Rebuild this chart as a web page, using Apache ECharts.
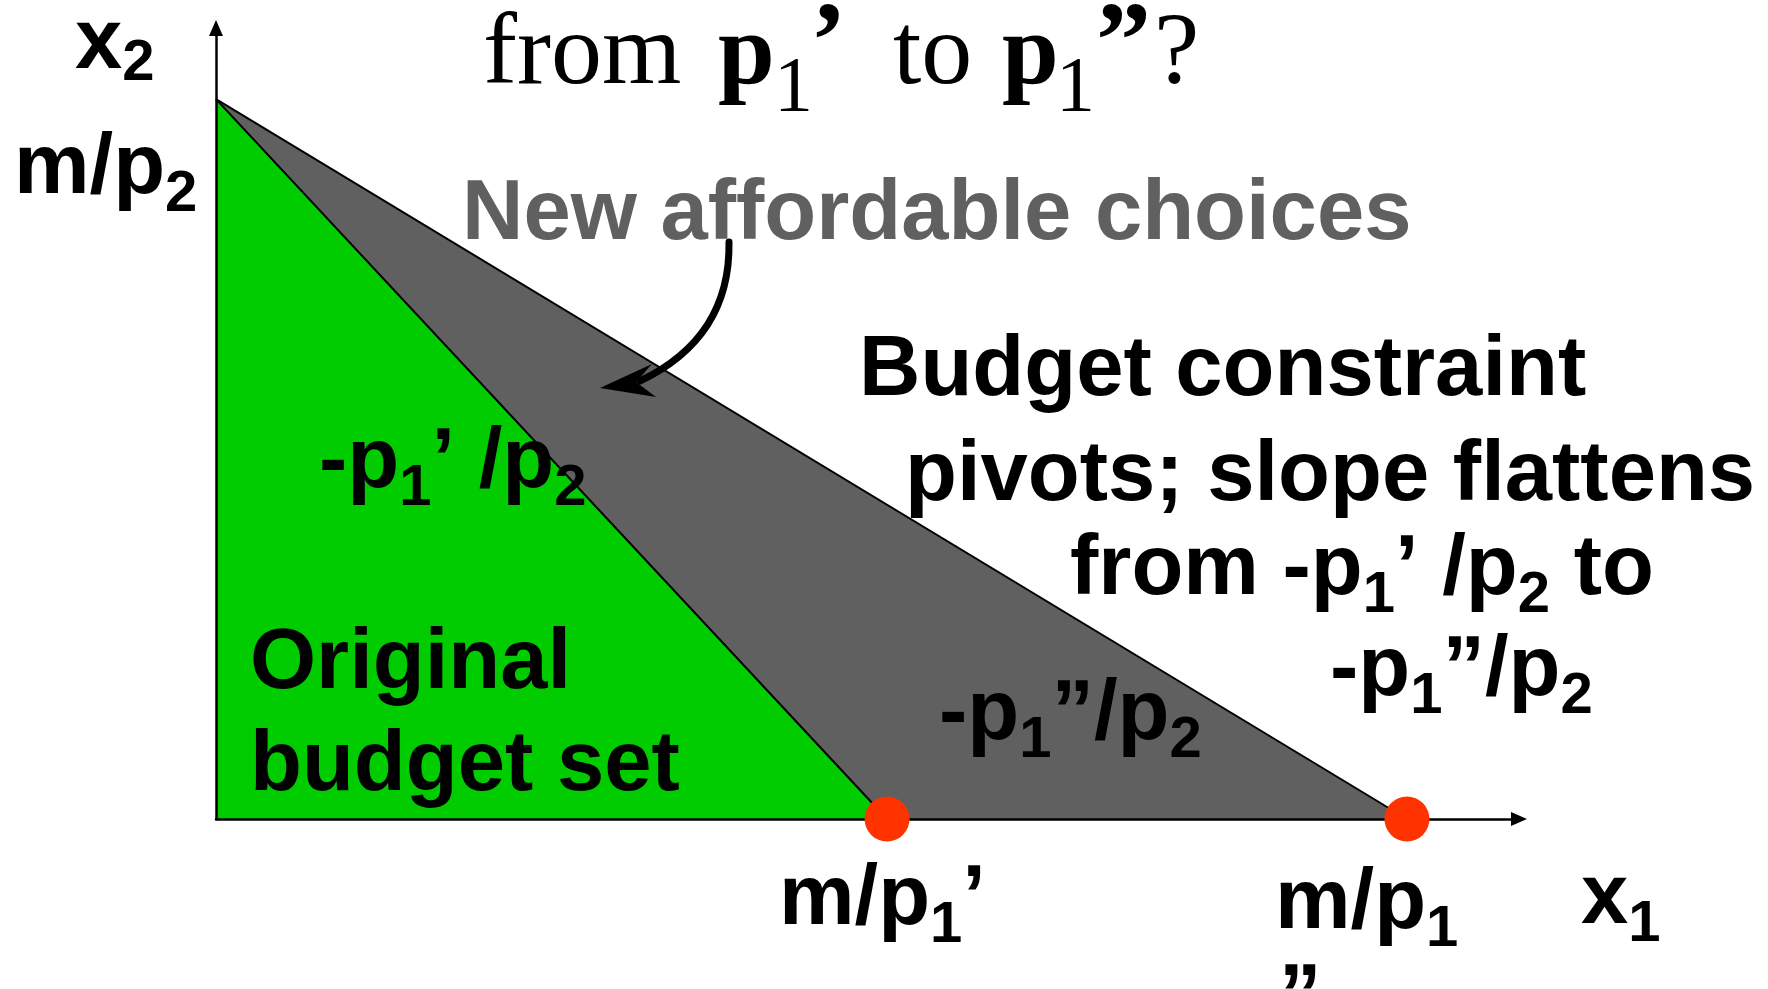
<!DOCTYPE html>
<html><head><meta charset="utf-8">
<script src="https://cdn.jsdelivr.net/npm/echarts@6/dist/echarts.min.js"></script>
<style>html,body{margin:0;padding:0;background:#fff}#c{width:1768px;height:989px}</style>
</head><body><div id="c"></div>
<script>
// ---- data (axis units; axes run 0..10) ----
const axisRange = [0, 10];
const budgetLines = ['Original budget line', 'New budget line'];
const yIntercepts = [9.1, 9.1];     // m/p2 (same for both lines)
const xIntercepts = [5.15, 9.14];   // m/p1' , m/p1''
const fillColors = ['#00cc00', '#606060'];
const dotColor = '#ff3300';

const SANS = '"Liberation Sans", Arial, sans-serif';
const SERIF = '"Liberation Serif", "Times New Roman", serif';
const M = 'bold 85px ' + SANS;
const S = 'bold 58px ' + SANS;
const R = '102px ' + SERIF;
const B = 'bold 102px ' + SERIF;
const BQ = 'bold 110px ' + SERIF;
const RS = '78px ' + SERIF;

const ctx = document.createElement('canvas').getContext('2d');
function midOffset(font){
  ctx.font = font; ctx.textBaseline = 'alphabetic';
  const a = ctx.measureText('H').actualBoundingBoxAscent;
  ctx.textBaseline = 'middle';
  const b = ctx.measureText('H').actualBoundingBoxAscent;
  return a - b;
}
function width(t, font){ ctx.font = font; ctx.textBaseline = 'alphabetic'; return ctx.measureText(t).width; }
function txt(x, base, t, font, color){
  return {type:'text', z:100, style:{x:x, y:base - midOffset(font), text:t, font:font, fill:color||'#000',
    align:'left', verticalAlign:'middle', textAlign:'left', textVerticalAlign:'middle'}};
}
function seq(x, base, parts, color){
  const out = []; let cx = x;
  parts.forEach(p => { out.push(txt(cx, base + (p[2]||0), p[0], p[1], color)); cx += width(p[0], p[1]); });
  return out;
}
const SUB = 18;
let graphics = [];
// title
graphics.push(txt(483, 83, 'from', R));
graphics.push(txt(718, 83, 'p', B));
graphics.push(txt(774, 110, '1', RS));
graphics.push(txt(810, 77, '\u2019', BQ));
graphics.push(txt(893, 83, 'to', R));
graphics.push(txt(1002, 83, 'p', B));
graphics.push(txt(1056, 110, '1', RS));
graphics.push(txt(1096, 77, '\u201D', BQ));
graphics.push(txt(1154, 83, '?', R));
// axis names
graphics = graphics.concat(seq(75, 68, [['x', M], ['2', S, 12]]));
graphics = graphics.concat(seq(14, 193, [['m/p', M], ['2', S, SUB]]));
graphics = graphics.concat(seq(1581, 923, [['x', M], ['1', S, SUB]]));
graphics = graphics.concat(seq(779, 924, [['m/p', M], ['1', S, SUB], ['\u2019', M]]));
graphics = graphics.concat(seq(1275, 928, [['m/p', M], ['1', S, SUB]]));
graphics.push(txt(1279, 1023, '\u201D', M));
// annotations
graphics.push(txt(462, 239, 'New affordable choices', M, '#606060'));
graphics = graphics.concat(seq(319, 487, [['-p', M], ['1', S, SUB], ['\u2019 /p', M], ['2', S, SUB]]));
graphics.push(txt(250, 688, 'Original', M));
graphics.push(txt(250, 790, 'budget set', M));
graphics = graphics.concat(seq(939, 739, [['-p', M], ['1', S, SUB], ['\u201D/p', M], ['2', S, SUB]]));
graphics.push(txt(859, 395, 'Budget constraint', M));
graphics.push(txt(905, 500, 'pivots; slope flattens', M));
graphics = graphics.concat(seq(1070, 594, [['from -p', M], ['1', S, SUB], ['\u2019 /p', M], ['2', S, SUB], [' to', M]]));
graphics = graphics.concat(seq(1330, 695, [['-p', M], ['1', S, SUB], ['\u201D/p', M], ['2', S, SUB]]));
// curved arrow
graphics.push({type:'bezierCurve', z:90, shape:{x1:729, y1:242, cpx1:730, cpy1:300, cpx2:705, cpy2:350, x2:640, y2:381},
  style:{stroke:'#000', lineWidth:7, fill:null, lineCap:'round'}});
graphics.push({type:'polygon', z:91, shape:{points:[[600,388],[652,364],[636,382],[656,397]]}, style:{fill:'#000'}});

const chart = echarts.init(document.getElementById('c'), null, {renderer:'canvas'});
const axisCommon = {
  type:'value', min:axisRange[0], max:axisRange[1], z:10,
  axisLine:{show:true, onZero:false, symbol:['none','triangle'], symbolSize:[14,16], lineStyle:{color:'#000', width:2.5}},
  axisTick:{show:false}, axisLabel:{show:false}, splitLine:{show:false}
};
const order = [1, 0];
chart.setOption({
  backgroundColor:'#fff',
  animation:false,
  grid:{left:216, right:249, top:28, bottom:170},
  xAxis:Object.assign({}, axisCommon),
  yAxis:Object.assign({}, axisCommon),
  series: order.map(i => ({
    name: budgetLines[i], type:'line', clip:false, showSymbol:false, symbol:'none',
    data:[[0, yIntercepts[i]], [xIntercepts[i], 0]],
    lineStyle:{color:'#000', width:2},
    areaStyle:{color:fillColors[i], opacity:1}
  })).concat([{
    name:'intercepts', type:'scatter', clip:false, z:20, symbolSize:45,
    itemStyle:{color:dotColor, opacity:1},
    data: xIntercepts.map(v => [v, 0])
  }]),
  graphic: graphics
});
</script></body></html>
